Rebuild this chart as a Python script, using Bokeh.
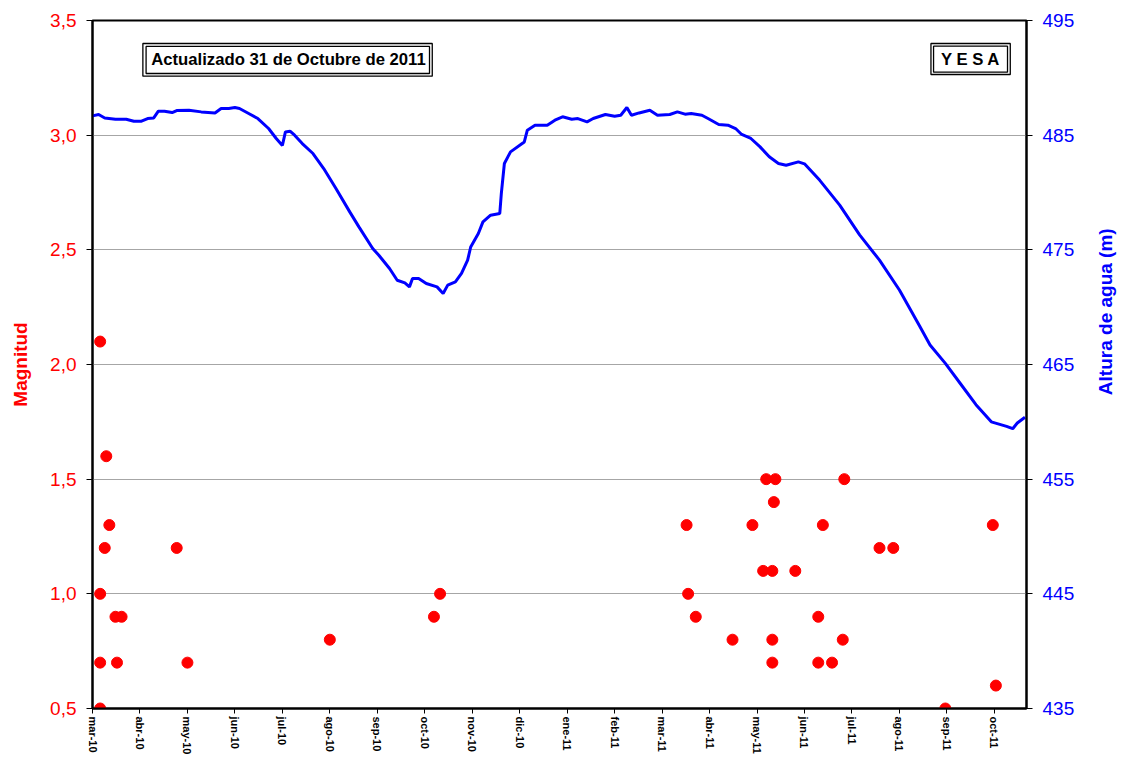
import math
import pandas as pd
from datetime import datetime, timedelta
from bokeh.plotting import figure
from bokeh.layouts import row
from bokeh.models import (Range1d, LinearAxis, FixedTicker, CustomJSTickFormatter,
                          Label, BoxAnnotation)
from bokeh.embed import file_html
from bokeh.resources import INLINE

# ---------------- data ----------------
LEVEL_DATES = [
    "2010-03-01", "2010-03-05", "2010-03-09", "2010-03-16", "2010-03-23", "2010-03-28",
    "2010-04-02", "2010-04-06", "2010-04-10", "2010-04-13", "2010-04-17", "2010-04-22",
    "2010-04-25", "2010-05-03", "2010-05-11", "2010-05-20", "2010-05-24", "2010-05-29",
    "2010-06-02", "2010-06-05", "2010-06-11", "2010-06-17", "2010-06-24", "2010-06-29",
    "2010-07-03", "2010-07-05", "2010-07-08", "2010-07-11", "2010-07-16", "2010-07-23",
    "2010-07-30", "2010-08-07", "2010-08-16", "2010-08-22", "2010-08-31", "2010-09-04",
    "2010-09-11", "2010-09-16", "2010-09-21", "2010-09-24", "2010-09-26", "2010-09-30",
    "2010-10-05", "2010-10-12", "2010-10-16", "2010-10-19", "2010-10-24", "2010-10-28",
    "2010-11-01", "2010-11-03", "2010-11-08", "2010-11-11", "2010-11-16", "2010-11-22",
    "2010-11-23", "2010-11-25", "2010-11-29", "2010-12-08", "2010-12-10", "2010-12-15",
    "2010-12-23", "2010-12-28", "2011-01-02", "2011-01-08", "2011-01-12", "2011-01-18",
    "2011-01-22", "2011-01-30", "2011-02-05", "2011-02-09", "2011-02-13", "2011-02-16",
    "2011-02-21", "2011-02-28", "2011-03-05", "2011-03-13", "2011-03-18", "2011-03-23",
    "2011-03-27", "2011-04-03", "2011-04-07", "2011-04-14", "2011-04-20", "2011-04-25",
    "2011-04-29", "2011-05-05", "2011-05-11", "2011-05-17", "2011-05-23", "2011-05-28",
    "2011-06-05", "2011-06-09", "2011-06-19", "2011-07-02", "2011-07-15", "2011-07-28",
    "2011-08-10", "2011-08-23", "2011-08-30", "2011-09-09", "2011-09-19", "2011-09-29",
    "2011-10-09", "2011-10-19", "2011-10-23", "2011-10-26", "2011-10-31",
]
LEVEL_M = [
    486.68, 486.80, 486.50, 486.39, 486.39, 486.22,
    486.22, 486.45, 486.50, 487.09, 487.09, 486.97,
    487.15, 487.18, 487.03, 486.94, 487.33, 487.33,
    487.41, 487.33, 486.89, 486.45, 485.58, 484.71,
    484.10, 485.28, 485.35, 485.00, 484.27, 483.40,
    482.09, 480.35, 478.31, 477.00, 475.12, 474.53,
    473.37, 472.35, 472.12, 471.77, 472.50, 472.50,
    472.06, 471.77, 471.19, 471.92, 472.21, 472.94,
    474.10, 475.25, 476.42, 477.44, 478.02, 478.17,
    479.91, 482.53, 483.54, 484.41, 485.43, 485.87,
    485.87, 486.31, 486.60, 486.39, 486.45, 486.16,
    486.45, 486.80, 486.65, 486.74, 487.41, 486.74,
    486.94, 487.17, 486.74, 486.80, 487.03, 486.83,
    486.89, 486.74, 486.45, 485.93, 485.87, 485.58,
    485.06, 484.71, 483.98, 483.11, 482.53, 482.38,
    482.67, 482.50, 481.06, 478.90, 476.30, 474.10,
    471.50, 468.40, 466.70, 465.10, 463.30, 461.50,
    460.00, 459.60, 459.40, 459.90, 460.40,
]

QUAKE_DATES = [
    "2010-03-06", "2010-03-10", "2010-03-12", "2010-03-09", "2010-04-25", "2010-03-06",
    "2010-03-16", "2010-03-20", "2010-03-06", "2010-03-17", "2010-05-02", "2010-03-06",
    "2010-08-03", "2010-10-10", "2010-10-14",
    "2011-03-24", "2011-03-25", "2011-03-30", "2011-04-23", "2011-05-06", "2011-05-13",
    "2011-05-15", "2011-05-19", "2011-05-19", "2011-05-19", "2011-05-20", "2011-05-21",
    "2011-06-03", "2011-06-18", "2011-06-18", "2011-06-21", "2011-06-27", "2011-07-04",
    "2011-07-05", "2011-07-28", "2011-08-06", "2011-09-09", "2011-10-10", "2011-10-12",
]
QUAKE_MAG = [
    2.1, 1.6, 1.3, 1.2, 1.2, 1.0,
    0.9, 0.9, 0.7, 0.7, 0.7, 0.5,
    0.8, 0.9, 1.0,
    1.3, 1.0, 0.9, 0.8, 1.3, 1.1,
    1.5, 1.1, 0.8, 0.7, 1.4, 1.5,
    1.1, 0.9, 0.7, 1.3, 0.7, 0.8,
    1.5, 1.2, 1.2, 0.5, 1.3, 0.6,
]

X_TICK_LABELS = ["mar-10", "abr-10", "may-10", "jun-10", "jul-10", "ago-10", "sep-10",
                 "oct-10", "nov-10", "dic-10", "ene-11", "feb-11", "mar-11", "abr-11",
                 "may-11", "jun-11", "jul-11", "ago-11", "sep-11", "oct-11"]
MAG_TICKS = [0.5, 1.0, 1.5, 2.0, 2.5, 3.0, 3.5]
LEVEL_TICKS = [435, 445, 455, 465, 475, 485, 495]

TITLE_LEFT = "Magnitud"
TITLE_RIGHT = "Altura de agua (m)"
NOTE_TEXT = "Actualizado 31 de Octubre de 2011"
DAM_TEXT = "Y E S A"

# ---------------- helpers ----------------
START = datetime(2010, 3, 1)
END = datetime(2011, 11, 1)
EPOCH = datetime(1970, 1, 1)


def day_ms(d):
    return ((START + timedelta(days=d)) - EPOCH).total_seconds() * 1000.0


x_ticks = [day_ms(31 * i) for i in range(len(X_TICK_LABELS))]
level_x = pd.to_datetime(LEVEL_DATES)
quake_x = pd.to_datetime(QUAKE_DATES)

FONT = "Liberation Sans"
RED = "#ff0000"
BLUE = "#0000ff"

p = figure(width=1090, height=758, x_axis_type="datetime",
           x_range=Range1d(START, END), y_range=Range1d(0.5, 3.5),
           output_backend="svg", toolbar_location=None,
           min_border_left=92, min_border_right=64, min_border_top=20, min_border_bottom=50)
p.background_fill_color = "white"
p.border_fill_color = "white"
p.outline_line_color = "black"
p.outline_line_width = 2

p.extra_y_ranges = {"agua": Range1d(435, 495)}

# grid
p.xgrid.visible = False
p.ygrid.ticker = FixedTicker(ticks=MAG_TICKS)
p.ygrid.grid_line_color = "#a6a6a6"
p.ygrid.grid_line_width = 1

# x axis
xa = p.xaxis[0]
xa.ticker = FixedTicker(ticks=x_ticks)
xa.formatter = CustomJSTickFormatter(args=dict(t=x_ticks, l=X_TICK_LABELS), code="""
let best = -1, bd = 1e300;
for (let i = 0; i < t.length; i++) { const d = Math.abs(t[i] - tick); if (d < bd) { bd = d; best = i; } }
return (best >= 0 && bd < 3600000) ? l[best] : '';
""")
xa.major_label_orientation = "vertical"
xa.major_label_text_font = FONT
xa.major_label_text_font_style = "bold"
xa.major_label_text_font_size = "11px"
xa.major_label_text_color = "black"
xa.major_label_standoff = 3
xa.major_tick_out = 5
xa.major_tick_in = 0
xa.minor_tick_line_color = None
xa.axis_line_width = 2
xa.axis_line_color = "black"

# left axis
ya = p.yaxis[0]
ya.ticker = FixedTicker(ticks=MAG_TICKS)
ya.formatter = CustomJSTickFormatter(code="return tick.toFixed(1).replace('.', ',');")
ya.major_label_text_font = FONT
ya.major_label_text_font_size = "19px"
ya.major_label_text_color = RED
ya.major_label_standoff = 10
ya.major_tick_out = 6
ya.major_tick_in = 0
ya.minor_tick_line_color = None
ya.axis_line_width = 2
ya.axis_label = TITLE_LEFT
ya.axis_label_text_font = FONT
ya.axis_label_text_font_style = "bold"
ya.axis_label_text_font_size = "19px"
ya.axis_label_text_color = RED
ya.axis_label_standoff = 16

# right axis (its title is drawn in a narrow companion panel, reading bottom-to-top)
ra = LinearAxis(y_range_name="agua", ticker=FixedTicker(ticks=LEVEL_TICKS))
ra.major_label_text_font = FONT
ra.major_label_text_font_size = "19px"
ra.major_label_text_color = BLUE
ra.major_label_standoff = 10
ra.major_tick_out = 6
ra.major_tick_in = 0
ra.minor_tick_line_color = None
ra.axis_line_width = 2
p.add_layout(ra, "right")

# data
p.line(x=level_x, y=LEVEL_M, y_range_name="agua", line_color=BLUE, line_width=3)
p.scatter(x=quake_x, y=QUAKE_MAG, size=11, fill_color=RED, line_color=RED)


# text boxes (double border)
def boxed(text, cx_day, cy, outer, inner):
    (l0, r0, t0, b0) = outer
    (l1, r1, t1, b1) = inner
    p.add_layout(BoxAnnotation(left=day_ms(l0), right=day_ms(r0), top=t0, bottom=b0,
                               fill_color="white", fill_alpha=1.0,
                               line_color="black", line_width=1.3, line_alpha=1.0))
    p.add_layout(BoxAnnotation(left=day_ms(l1), right=day_ms(r1), top=t1, bottom=b1,
                               fill_alpha=0.0, line_color="black", line_width=1.3,
                               line_alpha=1.0))
    p.add_layout(Label(x=day_ms(cx_day), y=cy, text=text, text_align="center",
                       text_baseline="middle", text_font=FONT, text_font_style="bold",
                       text_font_size="16.7px", text_color="black"))


boxed(NOTE_TEXT, 128.0, 3.330, (32.9, 221.9, 3.3997, 3.2571), (35.0, 220.1, 3.3870, 3.2689))
boxed(DAM_TEXT, 573.5, 3.330, (547.6, 599.4, 3.3997, 3.2645), (549.3, 597.6, 3.3879, 3.2746))

# companion panel holding the right-hand axis title
p2 = figure(width=30, height=758, x_range=Range1d(0, 1), y_range=Range1d(0.5, 3.5),
            output_backend="svg", toolbar_location=None,
            x_axis_location=None, y_axis_location=None,
            min_border_left=0, min_border_right=0, min_border_top=20, min_border_bottom=50)
p2.outline_line_color = None
p2.grid.visible = False
p2.background_fill_color = "white"
p2.border_fill_color = "white"
p2.add_layout(Label(x=0.5, y=2.23, text=TITLE_RIGHT, angle=math.pi / 2,
                    text_align="center", text_baseline="middle", text_font=FONT,
                    text_font_style="bold", text_font_size="19px", text_color=BLUE))

layout = row(p, p2, spacing=0)
open("out.html", "w").write(file_html(layout, INLINE))
